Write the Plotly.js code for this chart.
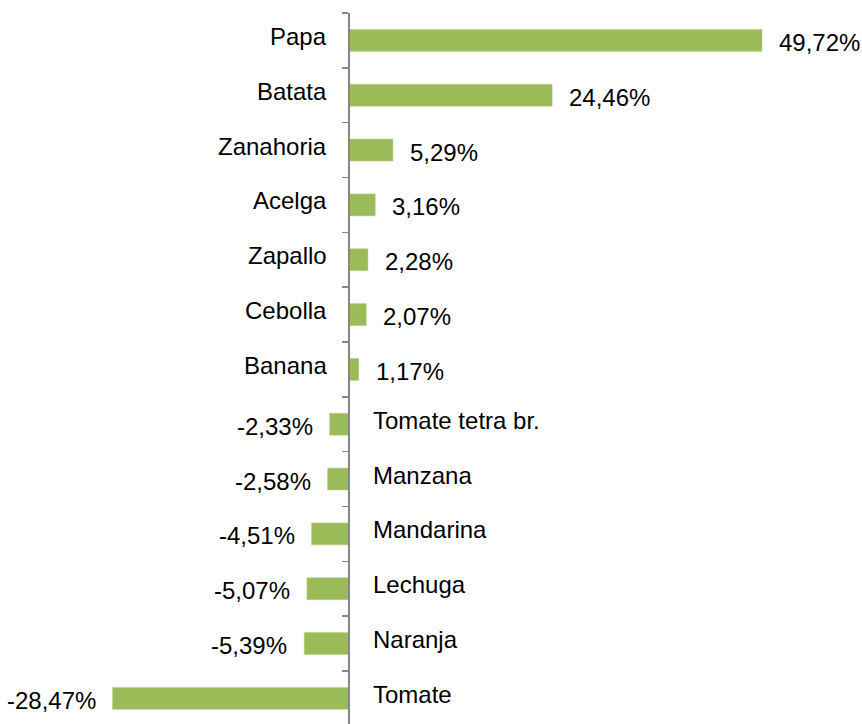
<!DOCTYPE html>
<html>
<head>
<meta charset="utf-8">
<script src="https://cdn.plot.ly/plotly-3.0.1.min.js"></script>
<style>html,body{margin:0;padding:0;background:#fff;}#chart{width:862px;height:724px;}</style>
</head>
<body>
<div id="chart"></div>
<script>
const categories = ["Papa","Batata","Zanahoria","Acelga","Zapallo","Cebolla","Banana","Tomate tetra br.","Manzana","Mandarina","Lechuga","Naranja","Tomate"];
const values = [49.72,24.46,5.29,3.16,2.28,2.07,1.17,-2.33,-2.58,-4.51,-5.07,-5.39,-28.47];
const valueLabels = ["49,72%","24,46%","5,29%","3,16%","2,28%","2,07%","1,17%","-2,33%","-2,58%","-4,51%","-5,07%","-5,39%","-28,47%"];

const FONT = {family: "Liberation Sans, Arial, sans-serif", size: 24, color: "#000000"};
const xmin = -42.02, xmax = 61.76;

const annotations = [];
categories.forEach((c, i) => {
  const v = values[i];
  const pos = v >= 0;
  annotations.push({
    x: 0, y: c, xref: "x", yref: "y", text: c, showarrow: false,
    xanchor: pos ? "right" : "left", xshift: pos ? -20 : 22, yshift: 4, font: FONT
  });
  annotations.push({
    x: v, y: c, xref: "x", yref: "y", text: valueLabels[i], showarrow: false,
    xanchor: pos ? "left" : "right", xshift: pos ? 15 : -15, yshift: -2, font: FONT
  });
});

const trace = {
  type: "bar", orientation: "h",
  x: values, y: categories,
  width: 0.4,
  marker: {color: "#9bbb59", line: {color: "#b5cf80", width: 0.5}},
  hoverinfo: "none"
};

const layout = {
  width: 862, height: 724,
  margin: {l: 0, r: 0, t: 13, b: 0, pad: 0},
  paper_bgcolor: "#ffffff", plot_bgcolor: "#ffffff",
  showlegend: false,
  xaxis: {range: [xmin, xmax], visible: false, showgrid: false, zeroline: false, fixedrange: true},
  yaxis: {
    type: "category", range: [12.467, -0.5],
    anchor: "free", position: (0 - xmin) / (xmax - xmin),
    showline: true, linecolor: "#868686", linewidth: 2,
    ticks: "outside", tickson: "boundaries", ticklen: 6, tickcolor: "#868686", tickwidth: 1.5,
    showticklabels: false, showgrid: false, zeroline: false, fixedrange: true
  },
  annotations: annotations,
  font: FONT
};

Plotly.newPlot("chart", [trace], layout, {staticPlot: true, displayModeBar: false});
</script>
</body>
</html>
